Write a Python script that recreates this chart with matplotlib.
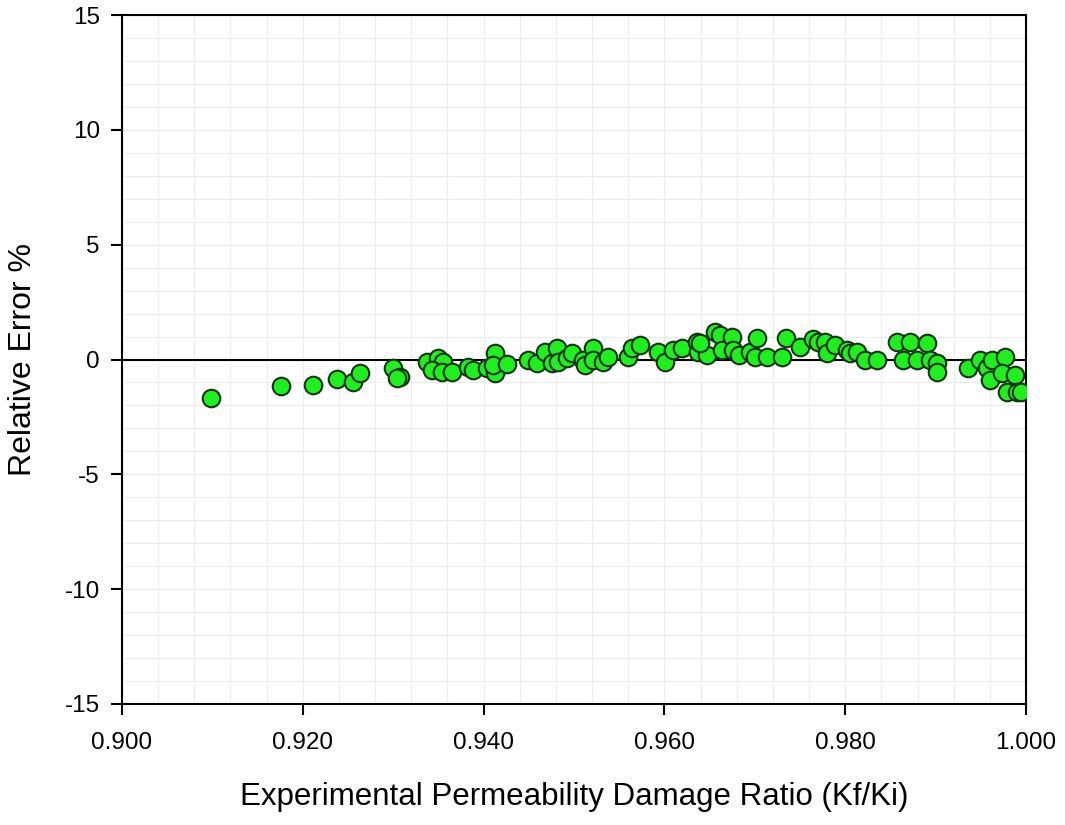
import numpy as np
import matplotlib.pyplot as plt
from matplotlib.ticker import MultipleLocator, FormatStrFormatter

plt.rcParams['font.family'] = ['Liberation Sans', 'DejaVu Sans']
plt.rcParams['axes.unicode_minus'] = False

# Kf/Ki experimental vs relative error (%)
ratio = [0.9098, 0.9176, 0.9211, 0.9238, 0.9255, 0.9263, 0.9300, 0.9307, 0.9304,
         0.9337, 0.9350, 0.9355, 0.9343, 0.9354, 0.9365, 0.9383, 0.9388, 0.9404,
         0.9413, 0.9413, 0.9410, 0.9426, 0.9449, 0.9459, 0.9468, 0.9476, 0.9481,
         0.9482, 0.9492, 0.9498, 0.9510, 0.9512, 0.9521, 0.9521, 0.9532, 0.9538,
         0.9560, 0.9564, 0.9573, 0.9593, 0.9601, 0.9609, 0.9620, 0.9636, 0.9637,
         0.9647, 0.9656, 0.9661, 0.9639, 0.9664, 0.9675, 0.9676, 0.9683, 0.9695,
         0.9700, 0.9702, 0.9713, 0.9730, 0.9735, 0.9750, 0.9764, 0.9770, 0.9778,
         0.9780, 0.9789, 0.9802, 0.9805, 0.9813, 0.9822, 0.9835, 0.9857, 0.9864,
         0.9872, 0.9879, 0.9891, 0.9894, 0.9902, 0.9901, 0.9936, 0.9949, 0.9957,
         0.9962, 0.9960, 0.9977, 0.9974, 0.9988, 0.9979, 0.9990, 0.9995]
rel_err = [-1.68, -1.15, -1.11, -0.85, -0.98, -0.59, -0.37, -0.76, -0.81,
           -0.11, 0.07, -0.11, -0.46, -0.54, -0.54, -0.33, -0.46, -0.37,
           0.28, -0.59, -0.24, -0.20, -0.02, -0.15, 0.33, -0.15, 0.50,
           -0.11, 0.07, 0.28, -0.02, -0.24, 0.50, -0.02, -0.11, 0.11,
           0.11, 0.50, 0.63, 0.33, -0.11, 0.41, 0.50, 0.76, 0.33,
           0.20, 1.20, 1.07, 0.72, 0.41, 0.98, 0.41, 0.20, 0.33,
           0.11, 0.94, 0.11, 0.11, 0.94, 0.54, 0.89, 0.76, 0.76,
           0.28, 0.63, 0.41, 0.28, 0.33, -0.02, -0.02, 0.76, -0.02,
           0.76, -0.02, 0.72, -0.02, -0.15, -0.54, -0.37, -0.02, -0.37,
           -0.02, -0.89, 0.11, -0.59, -0.67, -1.41, -1.41, -1.41]

fig = plt.figure(figsize=(10.65, 8.25), dpi=100)
ax = fig.add_axes([122 / 1065, 1 - 704 / 825, 904 / 1065, 689 / 825])

ax.set_xlim(0.9, 1.0)
ax.set_ylim(-15, 15)
ax.xaxis.set_major_locator(MultipleLocator(0.02))
ax.xaxis.set_minor_locator(MultipleLocator(0.004))
ax.yaxis.set_major_locator(MultipleLocator(5))
ax.yaxis.set_minor_locator(MultipleLocator(1))
ax.xaxis.set_major_formatter(FormatStrFormatter('%.3f'))
ax.grid(which='both', color='#ececec', linewidth=0.8)
ax.set_axisbelow(True)

ax.axhline(0, color='black', linewidth=1.5, zorder=2)
ax.scatter(ratio, rel_err, s=160, c='#1ef01e', edgecolors='#143214', linewidths=1.5, zorder=3)

for sp in ax.spines.values():
    sp.set_linewidth(1.5)
ax.tick_params(which='major', direction='out', length=8, width=1.5, labelsize=17.5)
ax.tick_params(axis='x', pad=12)
ax.tick_params(axis='y', pad=8)
ax.tick_params(which='minor', length=0)

ax.set_xlabel('Experimental Permeability Damage Ratio (Kf/Ki)', fontsize=22.5, labelpad=20)
ax.set_ylabel('Relative Error %', fontsize=23, labelpad=19)

plt.savefig('out.png', dpi=100)
